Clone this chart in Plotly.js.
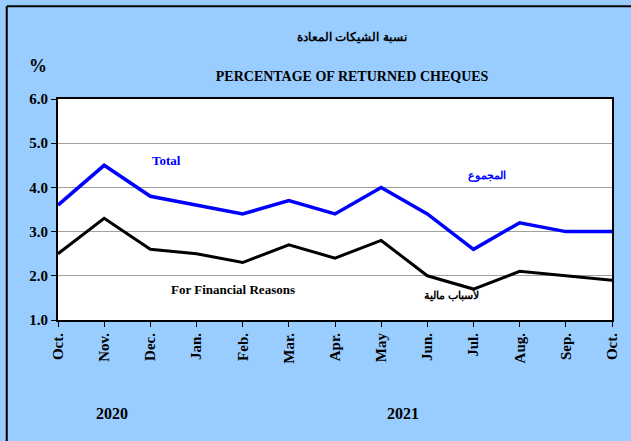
<!DOCTYPE html>
<html>
<head>
<meta charset="utf-8">
<script src="https://cdn.plot.ly/plotly-3.0.1.min.js"></script>
<style>html,body{margin:0;padding:0;background:#99CCFF;}#chart{width:631px;height:441px;}</style>
</head>
<body>
<div id="chart"></div>
<script>
const months = ["Oct.","Nov.","Dec.","Jan.","Feb.","Mar.","Apr.","May","Jun.","Jul.","Aug.","Sep.","Oct."];
const totalValues = [3.6, 4.5, 3.8, 3.6, 3.4, 3.7, 3.4, 4.0, 3.4, 2.6, 3.2, 3.0, 3.0];
const financialValues = [2.5, 3.3, 2.6, 2.5, 2.3, 2.7, 2.4, 2.8, 2.0, 1.7, 2.1, 2.0, 1.9];
const yTicks = [1, 2, 3, 4, 5, 6];
const yTickLabels = ["1.0","2.0","3.0","4.0","5.0","6.0"];

const xIdx = months.map((m, i) => i);
const font = "Liberation Serif, Times New Roman, serif";
const arFont = "Liberation Sans, Arial, sans-serif";

const traces = [
  {x: xIdx, y: totalValues, type: "scatter", mode: "lines", line: {color: "#0000FF", width: 3.5}, hoverinfo: "none"},
  {x: xIdx, y: financialValues, type: "scatter", mode: "lines", line: {color: "#000000", width: 3}, hoverinfo: "none"}
];

const layout = {
  width: 631, height: 441,
  paper_bgcolor: "#99CCFF", plot_bgcolor: "#FFFFFF",
  margin: {l: 58, r: 19, t: 99, b: 121},
  showlegend: false,
  font: {family: font, color: "#000", size: 12},
  title: {text: "<b>PERCENTAGE OF RETURNED CHEQUES</b>", x: 0.558, xanchor: "center", y: 0.828, yanchor: "middle", font: {family: font, size: 14, color: "#000"}},
  xaxis: {
    range: [0, 12], tickvals: xIdx, ticktext: months.map(m => "<b>" + m + "</b>"), tickangle: -90,
    ticks: "outside", ticklen: 5, tickcolor: "#000", showgrid: false, zeroline: false,
    showline: true, linecolor: "#000", linewidth: 2, mirror: true,
    tickfont: {family: font, size: 15, color: "#000"}
  },
  yaxis: {
    range: [1, 6], tickvals: yTicks, ticktext: yTickLabels.map(t => "<b>" + t + "</b>"),
    ticks: "outside", ticklen: 5, tickcolor: "#000", showgrid: true, gridcolor: "#A0A0A0", gridwidth: 1,
    zeroline: false, showline: true, linecolor: "#000", linewidth: 2, mirror: true,
    tickfont: {family: font, size: 15, color: "#000"}
  },
  annotations: [
    {text: "<b>نسبة الشيكات المعادة</b>", xref: "paper", yref: "paper", x: 0.53, y: 1.28, xanchor: "center", yanchor: "middle", showarrow: false, font: {family: arFont, size: 12, color: "#000"}},
    {text: "<b>%</b>", xref: "paper", yref: "paper", x: -0.036, y: 1.148, xanchor: "center", yanchor: "middle", showarrow: false, font: {family: font, size: 18, color: "#000"}},
    {text: "<b>Total</b>", xref: "x", yref: "y", x: 2.36, y: 4.62, showarrow: false, font: {family: font, size: 13, color: "#0000FF"}},
    {text: "<b>المجموع</b>", xref: "x", yref: "y", x: 9.29, y: 4.28, showarrow: false, font: {family: arFont, size: 11, color: "#0000FF"}},
    {text: "<b>For Financial Reasons</b>", xref: "x", yref: "y", x: 3.79, y: 1.68, showarrow: false, font: {family: font, size: 13, color: "#000"}},
    {text: "<b>لأسباب مالية</b>", xref: "x", yref: "y", x: 8.53, y: 1.57, showarrow: false, font: {family: arFont, size: 11, color: "#000"}},
    {text: "<b>2020</b>", xref: "paper", yref: "paper", x: 0.097, y: -0.425, xanchor: "center", yanchor: "middle", showarrow: false, font: {family: font, size: 16, color: "#000"}},
    {text: "<b>2021</b>", xref: "paper", yref: "paper", x: 0.623, y: -0.425, xanchor: "center", yanchor: "middle", showarrow: false, font: {family: font, size: 16, color: "#000"}}
  ],
  shapes: [
    {type: "line", xref: "paper", yref: "paper", x0: -0.0925, x1: -0.0925, y0: 1.42, y1: -0.6, line: {color: "#000", width: 2}},
    {type: "line", xref: "paper", yref: "paper", x0: -0.0925, x1: 1.1, y0: 1.42, y1: 1.42, line: {color: "#000", width: 2}}
  ]
};

Plotly.newPlot("chart", traces, layout, {displayModeBar: false, staticPlot: true});
</script>
</body>
</html>
